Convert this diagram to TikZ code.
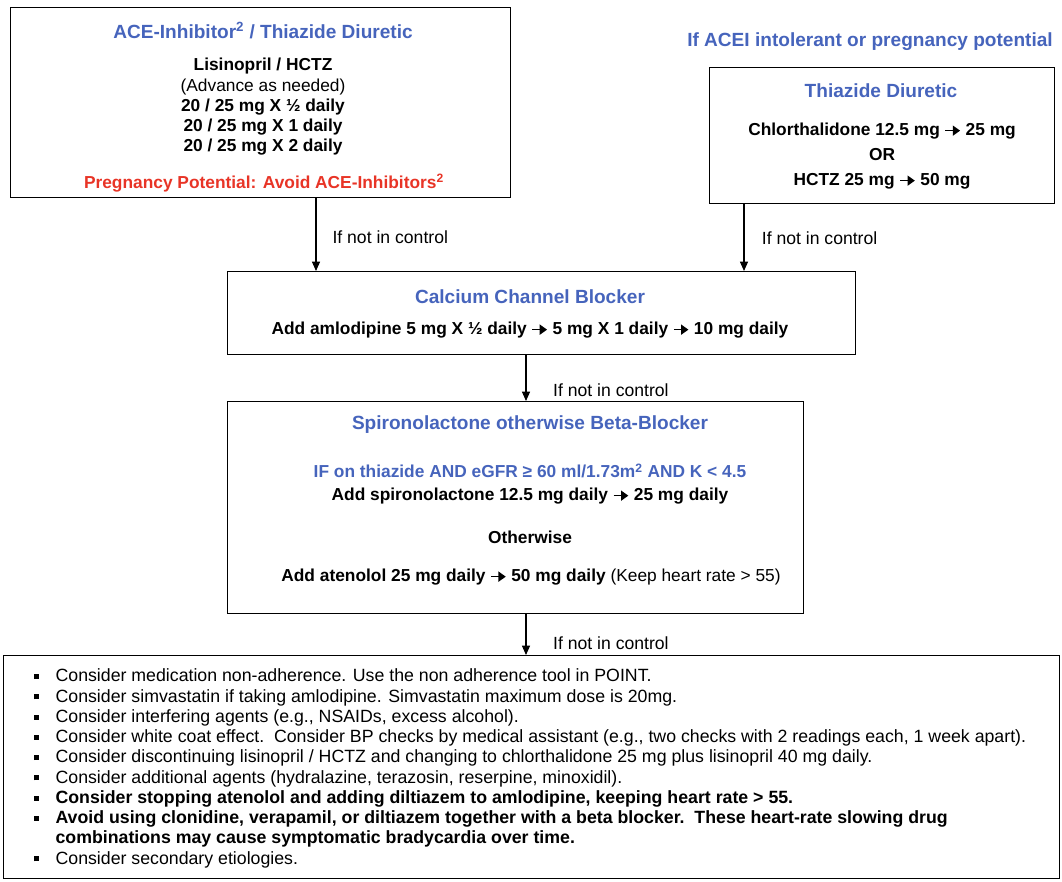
\documentclass[tikz,border=0pt]{standalone}
\usepackage{fontspec}
\setmainfont{Liberation Sans}
\usetikzlibrary{positioning,arrows.meta}
\definecolor{headblue}{RGB}{70,100,188}
\definecolor{warnred}{RGB}{232,52,38}
\newcommand*{\px}{0.75pt}
\newcommand*{\bul}{\rule[0.3ex]{3.8pt}{3.8pt}}
\newcommand*{\sq}{\textsuperscript{2}}
\newcommand*{\thn}{\tikz[baseline=-3.6pt]\draw[line width=1.1pt,-{Triangle[length=5.5pt,width=7.5pt]}] (0pt,0pt) -- (11pt,0pt);}

\tikzset{
  box/.style={draw,line width=1.1pt,anchor=north west,inner sep=0pt},
  flow/.style={-{Triangle[length=7pt,width=6pt]},line width=0.8pt},
  title/.style={font=\fontsize{14.3}{17}\selectfont\bfseries,text=headblue,inner sep=0pt},
  body/.style={font=\fontsize{13}{15.2}\selectfont\bfseries,align=center,inner sep=0pt},
  lbl/.style={font=\fontsize{13.2}{16}\selectfont,inner sep=0pt,anchor=west},
}

\begin{document}
\begin{tikzpicture}[x=0.75pt,y=-0.75pt]
\useasboundingbox (0,0) rectangle (1062,881);
% boxes
\node[box,minimum width=500*\px,minimum height=190*\px] (acei) at (10,7) {};
\node[box,minimum width=345*\px,minimum height=136*\px] (thz) at (709,67) {};
\node[box,minimum width=628*\px,minimum height=83*\px] (ccb) at (227,271) {};
\node[box,minimum width=576*\px,minimum height=212*\px] (spiro) at (227,401) {};
\node[box,minimum width=1056*\px,minimum height=223*\px] (more) at (3,655) {};
% first step, ACE-inhibitor
\node[title] (aceihd) at (263,31) {ACE-Inhibitor\sq{} / Thiazide Diuretic};
\node[body] (aceidose) at (263,107) {Lisinopril / HCTZ\\ {\mdseries (Advance as needed)}\\
  20 / 25 mg X ½ daily\\ 20 / 25 mg X 1 daily\\ 20 / 25 mg X 2 daily};
\node[body,text=warnred] (preg) at (264,183) {Pregnancy Potential: Avoid ACE-Inhibitors\sq};
% first step, alternative
\node[title] (althd) at (870,42) {If ACEI intolerant or pregnancy potential};
\node[title] (thzhd) at (881,91) {Thiazide Diuretic};
\node[body,font=\fontsize{13}{18.75}\selectfont\bfseries] (thzdose) at (882,156)
  {Chlorthalidone 12.5 mg \thn{} 25 mg\\ OR\\ HCTZ 25 mg \thn{} 50 mg};
% calcium channel blocker
\node[title] (ccbhd) at (530,297) {Calcium Channel Blocker};
\node[body] (ccbdose) at (530,330) {Add amlodipine 5 mg X ½ daily \thn{} 5 mg X 1 daily \thn{} 10 mg daily};
% spironolactone or beta-blocker
\node[title] (spirohd) at (530,425) {Spironolactone otherwise Beta-Blocker};
\node[body,text=headblue] (cond) at (530,471) {IF on thiazide AND eGFR ≥ 60 ml/1.73m\sq{} AND K < 4.5};
\node[body] (spirodose) at (530,496) {Add spironolactone 12.5 mg daily \thn{} 25 mg daily};
\node[body] (other) at (530,537) {Otherwise};
\node[body] (atendose) at (531,577) {Add atenolol 25 mg daily \thn{} 50 mg daily {\mdseries (Keep heart rate > 55)}};
% further options
\node[anchor=west,inner sep=0pt,font=\fontsize{13.3}{15.2}\selectfont] (list) at (34,769)
{\begin{tabular}{@{}p{16pt}@{}l@{}}
\bul & Consider medication non-adherence. Use the non adherence tool in POINT.\\
\bul & Consider simvastatin if taking amlodipine. Simvastatin maximum dose is 20mg.\\
\bul & Consider interfering agents (e.g., NSAIDs, excess alcohol).\\
\bul & Consider white coat effect.\ \ Consider BP checks by medical assistant (e.g., two checks with 2 readings each, 1 week apart).\\
\bul & Consider discontinuing lisinopril / HCTZ and changing to chlorthalidone 25 mg plus lisinopril 40 mg daily.\\
\bul & Consider additional agents (hydralazine, terazosin, reserpine, minoxidil).\\
\bul & \bfseries Consider stopping atenolol and adding diltiazem to amlodipine, keeping heart rate > 55.\\
\bul & \bfseries Avoid using clonidine, verapamil, or diltiazem together with a beta blocker.\ \ These heart-rate slowing drug\\
 & \bfseries combinations may cause symptomatic bradycardia over time.\\
\bul & Consider secondary etiologies.
\end{tabular}};
% connectors
\coordinate (xa) at (316,0);
\coordinate (xb) at (744,0);
\coordinate (xc) at (526,0);
\draw[flow] (acei.south -| xa) -- (ccb.north -| xa)
  node[lbl,pos=0.53,right=12pt] (ifa) {If not in control};
\draw[flow] (thz.south -| xb) -- (ccb.north -| xb)
  node[lbl,pos=0.5,right=13pt] (ifb) {If not in control};
\draw[flow] (ccb.south -| xc) -- (spiro.north -| xc)
  node[lbl,pos=0.76,right=20pt] (ifc) {If not in control};
\draw[flow] (spiro.south -| xc) -- (more.north -| xc)
  node[lbl,pos=0.7,right=20pt] (ifd) {If not in control};
\end{tikzpicture}
\end{document}
